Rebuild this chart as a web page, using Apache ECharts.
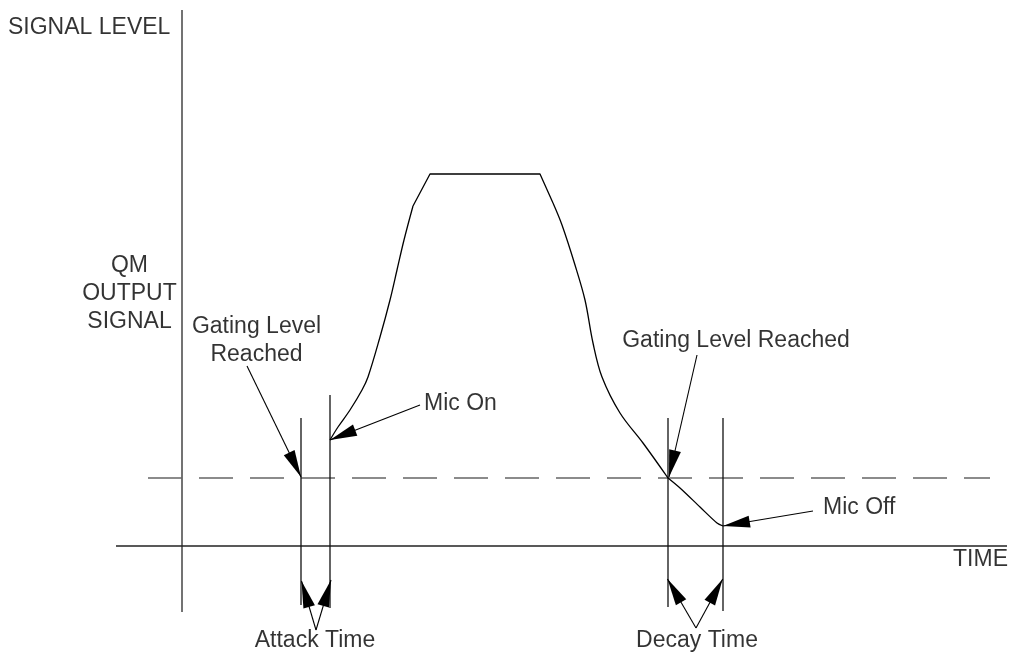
<!DOCTYPE html>
<html>
<head>
<meta charset="utf-8">
<title>QM Output Signal</title>
<script src="https://cdn.jsdelivr.net/npm/echarts@6/dist/echarts.min.js"></script>
<style>
  html, body { margin: 0; padding: 0; background: #fff; }
  #chart { width: 1016px; height: 657px; }
</style>
</head>
<body>
<div id="chart"></div>
<script>
// diagram units: time on x, signal level on y, origin where the two axes cross
const signalRise = [
  [14.8, 10.6], [15.6, 11.9], [16.8, 13.6], [18.0, 15.6], [18.6, 16.9],
  [19.8, 20.9], [20.8, 24.6], [21.5, 27.6], [22.2, 30.6], [23.1, 34.0]
]
const signalTop = [[23.1, 34.0], [24.8, 37.2], [35.8, 37.2], [37.1, 34.3]]
const signalFall = [
  [37.1, 34.3], [38.0, 32.1], [39.3, 28.1], [40.3, 24.6], [41.1, 20.3],
  [42.0, 16.9], [43.8, 13.3], [46.1, 10.3], [48.6, 6.8]
]
const signalTail = [[48.6, 6.8], [49.8, 5.8], [51.8, 3.9], [53.5, 2.3], [54.1, 2.0]]
const gatingLevel = 6.8
const gatingSpan = [-3.4, 80.8]
const levelAxis = [[0, -6.6], [0, 53.6]]
const timeAxis = [[-6.6, 0], [82.5, 0]]
// [time, top, bottom]
const markers = [
  [11.9, 12.8, -5.9],
  [14.8, 15.1, -6.2],
  [48.6, 12.8, -6.1],
  [54.1, 12.8, -6.5]
]
// [from, to] - head at "to"
const arrows = [
  [[6.5, 18.0], [11.9, 6.9]],
  [[23.8, 14.1], [14.8, 10.6]],
  [[51.5, 19.1], [48.7, 6.9]],
  [[63.1, 3.5], [54.1, 2.0]],
  [[13.4, -8.4], [11.95, -3.5]],
  [[13.4, -8.4], [14.9, -3.4]],
  [[51.4, -8.2], [48.55, -3.3]],
  [[51.4, -8.2], [54.07, -3.3]]
]
const labelTexts = [
  'SIGNAL LEVEL', 'QM\nOUTPUT\nSIGNAL', 'Gating Level\nReached',
  'Gating Level Reached', 'Mic On', 'Mic Off', 'TIME', 'Attack Time', 'Decay Time'
]
const labelPoints = [
  [-17.4, 51.8], [-5.25, 25.2], [7.45, 20.5],
  [55.4, 20.5], [24.2, 14.2], [64.1, 3.8], [82.6, -1.4], [13.3, -9.5], [51.5, -9.5]
]
const labelAlign = ['left', 'center', 'center', 'center', 'left', 'left', 'right', 'center', 'center']

const chart = echarts.init(document.getElementById('chart'))

const plainLine = (data, color, width, type, smooth) => ({
  type: 'line',
  data: data,
  symbol: 'none',
  silent: true,
  animation: false,
  smooth: smooth || false,
  lineStyle: { color: color, width: width, type: type || 'solid' }
})

const series = [
  plainLine(levelAxis, '#444', 1.5),
  plainLine(timeAxis, '#222', 1.5),
  plainLine([[gatingSpan[0], gatingLevel], [gatingSpan[1], gatingLevel]], '#666', 1.3, [34, 17])
]

markers.forEach(m => {
  series.push(plainLine([[m[0], m[1]], [m[0], m[2]]], '#111', 1.3))
})

series.push(plainLine(signalRise, '#000', 1.3, 'solid', 0.35))
series.push(plainLine(signalTop, '#000', 1.3))
series.push(plainLine(signalFall, '#000', 1.3, 'solid', 0.35))
series.push(plainLine(signalTail, '#000', 1.3, 'solid', 0.3))

// arrows drawn as markLines on an empty line series
series.push({
  type: 'line',
  data: [[0, 0]],
  symbol: 'none',
  silent: true,
  animation: false,
  lineStyle: { width: 0 },
  markLine: {
    silent: true,
    animation: false,
    symbol: ['none', 'triangle'],
    symbolSize: 22,
    label: { show: false },
    emphasis: { disabled: true },
    lineStyle: { color: '#000', width: 1.1, type: 'solid' },
    data: arrows.map(a => [
      { coord: a[0], symbol: 'none' },
      { coord: a[1], symbol: 'triangle', symbolSize: [12, 27], symbolOffset: [0, 13.5], itemStyle: { color: '#000' } }
    ])
  }
})

series.push({
  type: 'scatter',
  symbolSize: 0,
  silent: true,
  animation: false,
  data: labelTexts.map((t, i) => ({
    value: labelPoints[i],
    name: t,
    label: { align: labelAlign[i] }
  })),
  label: {
    show: true,
    position: 'inside',
    verticalAlign: 'middle',
    formatter: p => p.name,
    color: '#000',
    fontFamily: 'Liberation Sans, Arial, sans-serif',
    fontSize: 23,
    lineHeight: 28
  }
})

chart.setOption({
  animation: false,
  grid: { left: 0, right: 0, top: 0, bottom: 0 },
  xAxis: { type: 'value', min: -18.2, max: 83.4, show: false },
  yAxis: { type: 'value', min: -11.1, max: 54.6, show: false },
  series: series
})
</script>
</body>
</html>
